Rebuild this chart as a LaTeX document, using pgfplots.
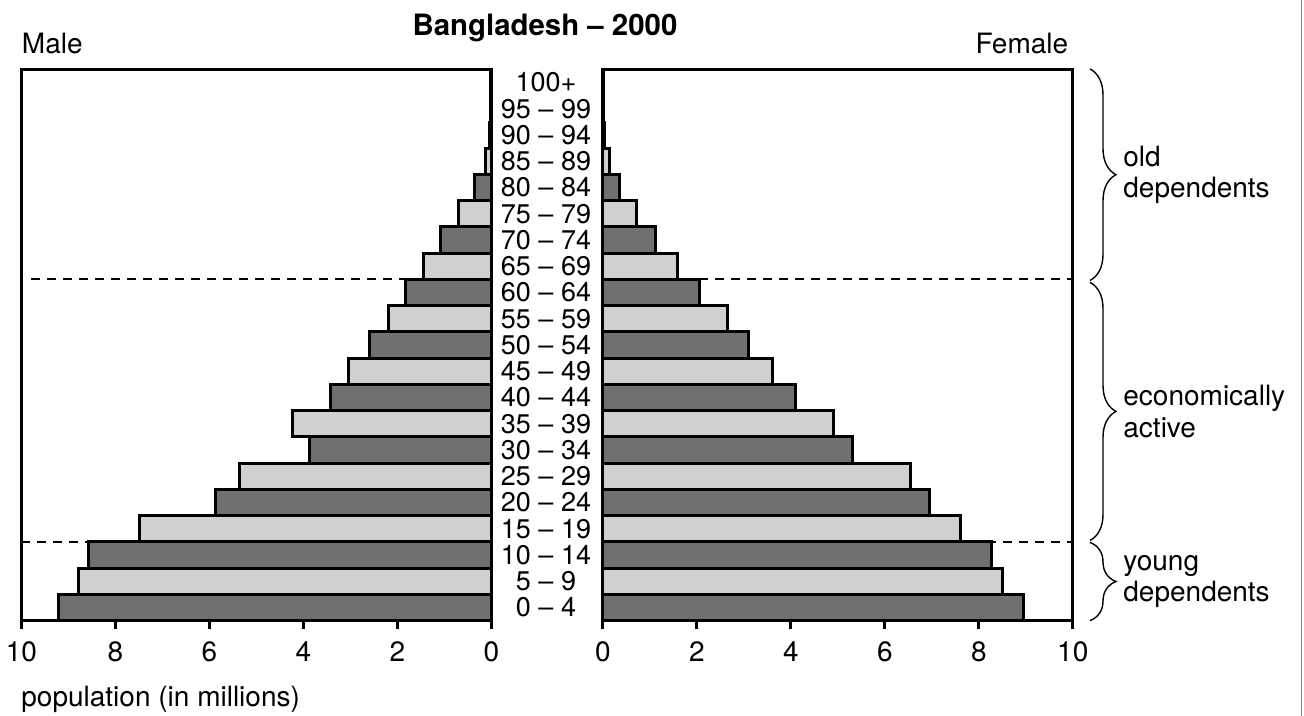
\documentclass[border=0pt]{standalone}
\usepackage{fontspec}
\setmainfont{TeX Gyre Heros}
\usepackage{pgfplots}
\usepackage{pgfplotstable}
\pgfplotsset{compat=1.18}
\usetikzlibrary{decorations.pathreplacing}

\definecolor{darkbar}{RGB}{112,112,112}
\definecolor{lightbar}{RGB}{208,208,208}

% rows 0 = 0-4 ... 20 = 100+ ; dark and light rows alternate
\pgfplotstableread{
idx male female
0  9.21 8.96
2  8.57 8.28
4  5.87 6.96
6  3.88 5.31
8  3.42 4.11
10 2.60 3.11
12 1.83 2.05
14 1.08 1.12
16 0.36 0.36
18 0.03 0.03
20 0.02 0.02
}\darkrows
\pgfplotstableread{
idx male female
1  8.78 8.51
3  7.48 7.60
5  5.36 6.54
7  4.23 4.91
9  3.03 3.60
11 2.18 2.66
13 1.45 1.58
15 0.71 0.71
17 0.12 0.14
19 0.02 0.02
}\lightrows

\pgfplotsset{
  pyr/.style={
    xbar, bar width=1, bar shift=0,
    scale only axis, width=235bp, height=275.6bp,
    xmin=0, xmax=10, ymin=-0.5, ymax=20.5,
    xtick={0,2,...,10}, xtick pos=bottom,
    ytick=\empty,
    axis line style={line width=1.5bp},
    tick style={line width=1.5bp, black},
    tick align=outside, major tick length=4bp,
    /pgf/number format/assume math mode=true,
    xticklabel style={font=\fontsize{14bp}{16bp}\selectfont, yshift=-3bp},
    clip=false,
  },
  bars/.style={draw=black, line width=1.5bp},
  sep/.style={sharp plot, black, line width=1bp, dash pattern=on 4.5bp off 3.5bp},
}

\begin{document}
\begin{tikzpicture}
\useasboundingbox (0,0) rectangle (652bp,-358bp);

% male side
\begin{axis}[pyr, x dir=reverse, at={(10.7bp,-310.35bp)}, anchor=south west]
  \addplot[sep] coordinates {(9.8,12.5) (0,12.5)};
  \addplot[sep] coordinates {(10,2.5) (0,2.5)};
  \addplot[bars, fill=darkbar]  table[x=male, y=idx] {\darkrows};
  \addplot[bars, fill=lightbar] table[x=male, y=idx] {\lightrows};
\end{axis}

% female side, age groups as tick labels
\begin{axis}[pyr, at={(301.4bp,-310.35bp)}, anchor=south west,
    ytick={0,...,20}, ytick pos=left, ytick style={draw=none},
    yticklabels={0 – 4,5 – 9,10 – 14,15 – 19,20 – 24,25 – 29,30 – 34,35 – 39,
      40 – 44,45 – 49,50 – 54,55 – 59,60 – 64,65 – 69,70 – 74,75 – 79,80 – 84,
      85 – 89,90 – 94,95 – 99,100+},
    yticklabel style={font=\fontsize{13.5bp}{14bp}\selectfont, anchor=center,
      xshift=-24.4bp, inner sep=0pt}]
  \addplot[sep] coordinates {(0,12.5) (10,12.5)};
  \addplot[sep] coordinates {(0,2.5) (10,2.5)};
  \addplot[bars, fill=darkbar]  table[x=female, y=idx] {\darkrows};
  \addplot[bars, fill=lightbar] table[x=female, y=idx] {\lightrows};
\end{axis}

% titles
\node[anchor=base, font=\fontsize{14.7bp}{17bp}\selectfont\bfseries] at (272.5bp,-17.5bp) {Bangladesh – 2000};
\node[anchor=base west, inner sep=0pt, font=\fontsize{14bp}{16bp}\selectfont] at (10.8bp,-26.7bp) {Male};
\node[anchor=base east, inner sep=0pt, font=\fontsize{14bp}{16bp}\selectfont] at (534.3bp,-26.7bp) {Female};
\node[anchor=base west, inner sep=0pt, font=\fontsize{14bp}{16bp}\selectfont] at (10.5bp,-353bp) {population (in millions)};

% braces and groups
\begin{scope}[decoration={brace, amplitude=13bp}, line width=0.7bp]
  \draw[decorate] (545bp,-34.5bp) -- (545bp,-140.2bp);
  \draw[decorate] (545bp,-141.2bp) -- (545bp,-270.2bp);
  \draw[decorate] (545bp,-271.2bp) -- (545bp,-310.3bp);
\end{scope}
\begin{scope}[font=\fontsize{14bp}{15.8bp}\selectfont]
  \node[anchor=west, align=left, inner sep=0pt] at (561.5bp,-87.4bp) {old\\dependents};
  \node[anchor=west, align=left, inner sep=0pt] at (561.5bp,-205.7bp) {economically\\active};
  \node[anchor=west, align=left, inner sep=0pt] at (561.5bp,-290.7bp) {young\\dependents};
\end{scope}

% edge of the scanned frame
\draw[gray, line width=0.6bp] (650.8bp,0) -- (650.8bp,-358bp);
\end{tikzpicture}
\end{document}
